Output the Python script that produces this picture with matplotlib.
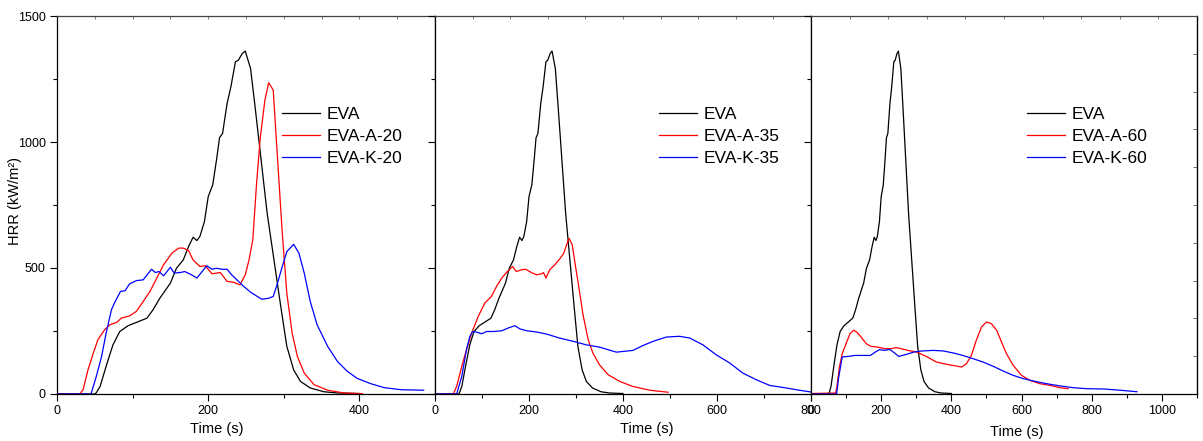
import matplotlib
matplotlib.use("Agg")
import matplotlib.pyplot as plt
from matplotlib.ticker import MultipleLocator

plt.rcParams["font.family"] = ["Liberation Sans", "DejaVu Sans"]

# EVA reference curve (same in all panels)
eva_t = [0, 50, 52, 57, 65, 74, 83, 94, 105, 119, 127, 136, 150, 158, 167, 174, 180, 185,
         189, 195, 200, 206, 211, 215, 219, 225, 230, 236, 240, 245, 249, 256, 262, 269,
         278, 287, 296, 304, 313, 322, 335, 353, 371, 400]
eva_v = [0, 0, 5, 30, 110, 195, 248, 271, 284, 301, 334, 380, 440, 499, 532, 585, 622, 609,
         625, 684, 783, 830, 929, 1017, 1034, 1153, 1219, 1318, 1325, 1351, 1361, 1292, 1140, 955,
         717, 532, 347, 189, 96, 50, 24, 9, 4, 2]

# EVA-A-20
a20_t = [0, 30, 34.5, 41, 48, 54, 63, 70, 79, 85, 96, 105, 114, 123, 132, 141, 152, 161, 167,
         174, 180, 189, 196, 205, 216, 225, 234, 242, 249, 254, 259, 264, 269, 275, 280, 286,
         291, 298, 304, 311, 318, 327, 340, 358, 380, 404]
a20_v = [0, 0, 17, 96, 162, 215, 255, 275, 284, 301, 310, 328, 367, 407, 460, 513, 559, 579, 579,
         569, 532, 506, 509, 477, 482, 447, 443, 433, 473, 532, 612, 836, 1021, 1166, 1235, 1206,
         968, 638, 400, 242, 149, 83, 37, 15, 4, 1]

# EVA-K-20
k20_t = [0, 45, 52, 59, 65, 72, 77, 84, 90, 96, 105, 114, 121, 125, 130, 135, 141, 150, 155,
         163, 169, 178, 185, 192, 198, 205, 211, 218, 225, 231, 238, 247, 256, 265, 271, 280,
         286, 291, 298, 304, 313, 320, 327, 335, 344, 358, 371, 384, 397, 415, 433, 455, 485]
k20_v = [0, 0, 70, 149, 242, 334, 367, 407, 410, 437, 450, 453, 480, 495, 482, 486, 469, 503, 480,
         482, 486, 473, 460, 486, 509, 495, 499, 495, 495, 473, 453, 427, 404, 387, 376, 380,
         387, 433, 506, 565, 594, 559, 480, 367, 275, 189, 129, 90, 62, 41, 25, 17, 15]

# EVA-A-35
a35_t = [0, 39, 46, 57, 67, 78, 92, 106, 120, 131, 142, 154, 165, 173, 184, 193, 205, 216, 227,
         231, 236, 244, 255, 265, 274, 280, 285, 292, 299, 307, 315, 326, 336, 350, 368, 393,
         421, 457, 496]
a35_v = [0, 0, 30, 110, 176, 242, 308, 361, 387, 427, 460, 486, 506, 486, 493, 495, 482, 473, 477,
         482, 460, 493, 513, 535, 559, 592, 618, 592, 506, 413, 314, 215, 162, 116, 77, 50,
         30, 15, 7]

# EVA-K-35
k35_t = [0, 46, 57, 67, 74, 80, 88, 99, 110, 124, 142, 156, 170, 181, 195, 216, 237, 265, 294,
         322, 350, 386, 421, 442, 464, 492, 520, 542, 570, 598, 627, 655, 683, 712, 747, 775, 800]
k35_v = [0, 0, 70, 176, 228, 248, 246, 239, 248, 248, 251, 262, 271, 258, 251, 246, 238, 222, 209,
         195, 186, 166, 173, 192, 209, 226, 229, 222, 195, 156, 123, 83, 57, 34, 24, 15, 8]

# EVA-A-60
a60_t = [0, 70, 73, 81, 89, 100, 111, 121, 130, 143, 157, 171, 190, 210, 229, 243, 257, 276,
         300, 329, 357, 386, 414, 429, 443, 457, 471, 486, 500, 514, 529, 543, 557, 576, 600,
         624, 652, 681, 710, 733]
a60_v = [2, 4, 21, 107, 160, 200, 239, 253, 246, 226, 200, 189, 186, 180, 180, 184, 180, 173,
         167, 149, 127, 118, 111, 107, 120, 153, 213, 266, 286, 279, 253, 206, 160, 114, 74,
         54, 41, 34, 25, 21]

# EVA-K-60
k60_t = [0, 73, 79, 89, 105, 124, 148, 169, 184, 195, 210, 224, 238, 250, 271, 295, 319, 348,
         376, 405, 433, 462, 490, 519, 548, 576, 605, 633, 671, 710, 748, 786, 833, 881, 929]
k60_v = [0, 0, 67, 147, 149, 153, 153, 153, 167, 176, 173, 177, 163, 149, 157, 167, 171, 173,
         171, 163, 153, 140, 127, 110, 91, 74, 61, 52, 41, 32, 25, 21, 20, 15, 9]

panels = [
    ("20", a20_t, a20_v, k20_t, k20_v, 500, [57, 378], 0.595, 0.423, -0.074),
    ("35", a35_t, a35_v, k35_t, k35_v, 800, [435, 376], 0.596, 0.564, -0.074),
    ("60", a60_t, a60_v, k60_t, k60_v, 1100, [811, 386], 0.560, 0.534, -0.082),
]

W, H = 1203, 441
fig = plt.figure(figsize=(W / 100, H / 100), dpi=100)

for i, (lvl, at, av, kt, kv, xmax, (x0, w), legx, labx, laby) in enumerate(panels):
    ax = fig.add_axes([x0 / W, (H - 394) / H, w / W, 378 / H])
    ax.plot(eva_t, eva_v, color="black", lw=0.9, label="EVA")
    ax.plot(at, av, color="red", lw=0.9, label="EVA-A-" + lvl)
    ax.plot(kt, kv, color="blue", lw=0.9, label="EVA-K-" + lvl)
    ax.set_xlim(0, xmax)
    ax.set_ylim(0, 1500)
    ax.xaxis.set_major_locator(MultipleLocator(200))
    ax.xaxis.set_minor_locator(MultipleLocator(100))
    ax.yaxis.set_major_locator(MultipleLocator(500))
    ax.yaxis.set_minor_locator(MultipleLocator(250))
    ax.tick_params(which="major", direction="out", length=5, width=0.8, labelsize=9, pad=3)
    ax.tick_params(which="minor", direction="out", length=3, width=0.8)
    ax.set_xlabel("Time (s)", fontsize=10.5)
    ax.xaxis.set_label_coords(labx, laby)
    if i == 0:
        ax.set_ylabel("HRR (kW/m²)", fontsize=10.5)
        ax.yaxis.set_label_coords(-0.093, 0.51)
    else:
        ax.tick_params(axis="y", which="both", labelleft=False)
    for s in ax.spines.values():
        s.set_linewidth(0.9)
    ax.spines["top"].set_color("#444444")

    # small inner ticks along the top edge
    top = ax.secondary_xaxis("top", functions=(lambda x, m=xmax: x / m, lambda x, m=xmax: x * m))
    top.set_xticks([k / 10 for k in range(11)])
    top.tick_params(direction="in", length=2, width=0.6, colors="#666666", labeltop=False)
    top.spines["top"].set_visible(False)
    if i == 2:
        right = ax.secondary_yaxis("right", functions=(lambda y: y / 1500, lambda y: y * 1500))
        right.set_yticks([k / 10 for k in range(11)])
        right.tick_params(direction="in", length=3, width=0.6, colors="#555555", labelright=False)

    ax.legend(loc="upper left", bbox_to_anchor=(legx, 0.76), frameon=False, fontsize=12.5,
              handlelength=2.2, handletextpad=0.35, labelspacing=0.4, borderpad=0,
              borderaxespad=0)

fig.savefig("out.png", dpi=100)
